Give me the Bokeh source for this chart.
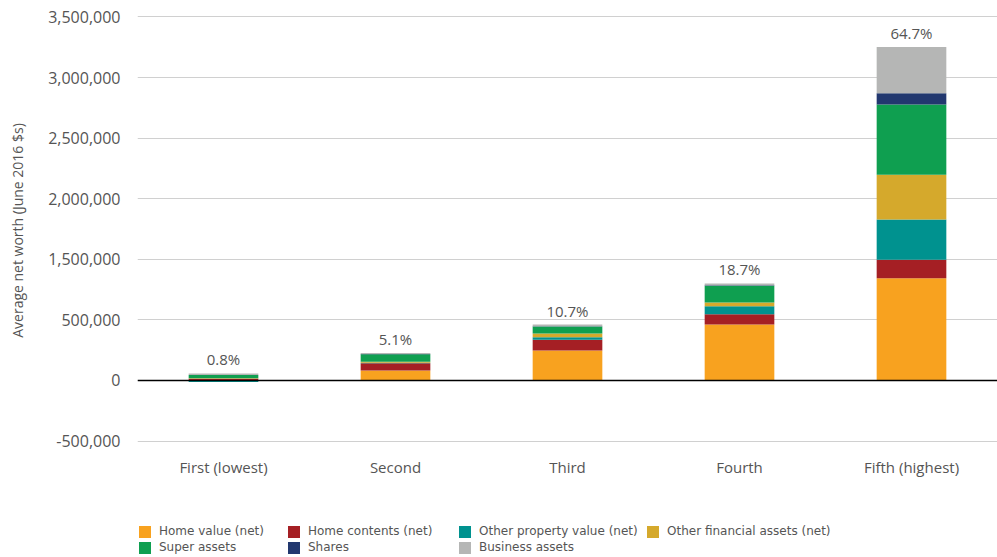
from bokeh.plotting import figure
from bokeh.layouts import column
from bokeh.models import (ColumnDataSource, Range1d, FixedTicker, Span, Legend, LegendItem, LabelSet)
from bokeh.core.properties import value
from bokeh.embed import file_html
from bokeh.resources import INLINE

categories = ["First (lowest)", "Second", "Third", "Fourth", "Fifth (highest)"]
home_value = [3000, 83000, 248000, 462000, 844000]
home_contents = [12000, 60000, 88000, 85000, 152000]
other_property = [-12000, 4000, 21000, 66000, 333000]
other_financial = [4000, 8000, 30000, 30000, 369000]
super_assets = [26000, 61000, 58000, 138000, 580000]
shares = [1000, 2000, 3000, 4000, 93000]
business = [12000, 8000, 14000, 16000, 380000]
share_labels = ["0.8%", "5.1%", "10.7%", "18.7%", "64.7%"]

y_ticks = [-500000, 0, 500000, 1000000, 1500000, 2000000, 2500000, 3000000]
y_tick_labels = ["-500,000", "0", "500,000", "1,500,000", "2,000,000",
                 "2,500,000", "3,000,000", "3,500,000"]

series_names = ["Home value (net)", "Home contents (net)", "Other property value (net)",
                "Other financial assets (net)", "Super assets", "Shares", "Business assets"]
series_values = [home_value, home_contents, other_property, other_financial,
                 super_assets, shares, business]
colors = ["#F8A21F", "#A51F24", "#00928F", "#D5A92C", "#0F9F50", "#22386F", "#B5B6B5"]

xs = [i + 0.5 for i in range(len(categories))]

p = figure(width=997, height=497, output_backend="svg", toolbar_location=None,
           x_range=Range1d(0, 5), y_range=Range1d(-577600, 3052900),
           min_border_left=137, min_border_right=0, min_border_top=10, min_border_bottom=47)
p.outline_line_color = None
p.background_fill_color = "white"

pos = [0.0] * len(categories)
neg = [0.0] * len(categories)
for name, vals, col in zip(series_names, series_values, colors):
    bottoms, tops = [], []
    for i, v in enumerate(vals):
        if v >= 0:
            bottoms.append(pos[i]); tops.append(pos[i] + v); pos[i] += v
        else:
            bottoms.append(neg[i]); tops.append(neg[i] + v); neg[i] += v
    src = ColumnDataSource(dict(x=xs, bottom=bottoms, top=tops))
    p.vbar(x="x", bottom="bottom", top="top", width=0.405, source=src,
           fill_color=col, line_color=None)

lab_src = ColumnDataSource(dict(x=xs, y=pos, text=share_labels))
p.add_layout(LabelSet(x="x", y="y", text="text", source=lab_src, y_offset=4,
                      text_align="center", text_baseline="bottom",
                      text_font=value("Open Sans"), text_font_size="15px",
                      text_color="#555555"))

p.add_layout(Span(location=0, dimension="width", line_color="#000000", line_width=1.5))

p.xaxis.ticker = FixedTicker(ticks=xs)
p.xaxis.major_label_overrides = {x: c for x, c in zip(xs, categories)}
p.xaxis.axis_line_color = None
p.xaxis.major_tick_line_color = None
p.xaxis.minor_tick_line_color = None
p.xaxis.major_label_text_font = "Open Sans"
p.xaxis.major_label_text_font_size = "15px"
p.xaxis.major_label_text_color = "#555555"
p.xaxis.major_label_standoff = 0
p.xgrid.grid_line_color = None

p.yaxis.ticker = FixedTicker(ticks=y_ticks)
p.yaxis.major_label_overrides = {t: l for t, l in zip(y_ticks, y_tick_labels)}
p.yaxis.axis_line_color = None
p.yaxis.major_tick_line_color = None
p.yaxis.minor_tick_line_color = None
p.yaxis.major_label_text_font = "Open Sans"
p.yaxis.major_label_text_font_size = "16px"
p.yaxis.major_label_text_color = "#555555"
p.yaxis.major_label_standoff = 11
p.yaxis.axis_label = "Average net worth (June 2016 $s)"
p.yaxis.axis_label_text_font = "Open Sans"
p.yaxis.axis_label_text_font_size = "14px"
p.yaxis.axis_label_text_font_style = "normal"
p.yaxis.axis_label_text_color = "#555555"
p.yaxis.axis_label_standoff = 18
p.ygrid.grid_line_color = "#D0D0D0"
p.ygrid.grid_line_width = 1

# legend strip below the chart (its frame is aligned with the chart frame)
lg = figure(width=997, height=60, output_backend="svg", toolbar_location=None,
            x_axis_type=None, y_axis_type=None, x_range=Range1d(0, 1), y_range=Range1d(0, 1),
            min_border_left=0, min_border_right=0, min_border_top=0, min_border_bottom=0)
lg.outline_line_color = None
lg.grid.visible = False
dummy = []
for col in colors:
    dummy.append(lg.vbar(x=[-10], top=[0], width=0.1, fill_color=col, line_color=None))

columns_idx = [[0, 4], [1, 5], [2, 6], [3]]
col_x = [137, 286, 457, 645]
for cols, cx in zip(columns_idx, col_x):
    items = [LegendItem(label=series_names[k], renderers=[dummy[k]]) for k in cols]
    n = len(cols)
    leg = Legend(items=items, location=(cx - 137, 60 - 26 - 16 * n),
                 orientation="vertical", padding=0, spacing=0, margin=0,
                 glyph_width=15, glyph_height=15, label_height=16, label_standoff=7,
                 label_text_font="DejaVu Sans", label_text_font_size="12px",
                 label_text_color="#555555", border_line_color=None,
                 background_fill_alpha=0)
    lg.add_layout(leg)

layout = column(p, lg, spacing=0)
open("out.html", "w").write(file_html(layout, INLINE))
